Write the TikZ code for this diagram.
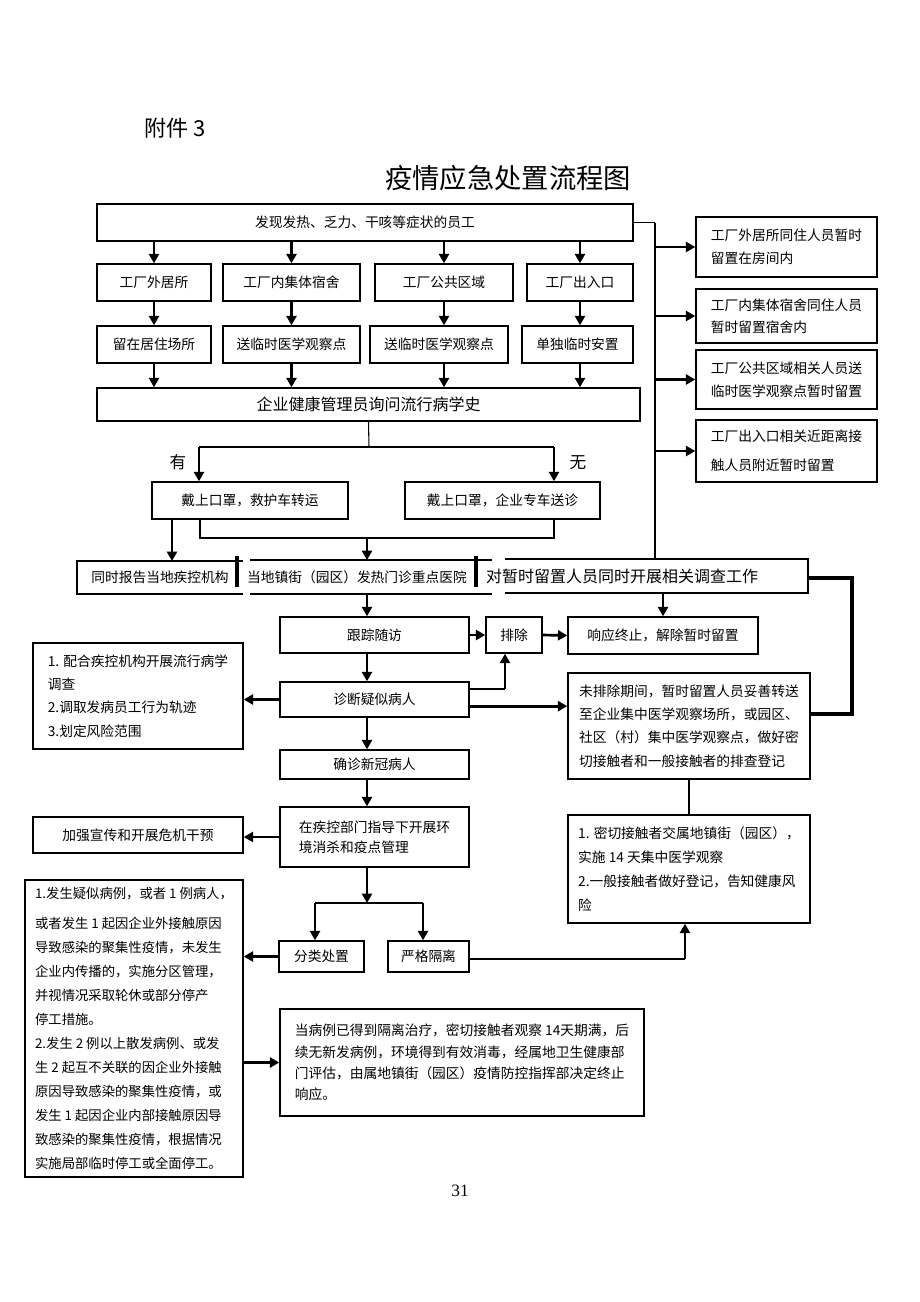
\documentclass[tikz,border=0pt]{standalone}
\usepackage{fontspec}
\setmainfont{Noto Sans CJK SC}
\newfontfamily\pagefont{Liberation Serif}
\usepackage{tikz}
\usetikzlibrary{calc, positioning, arrows.meta}
\newcommand{\fsz}[2]{\fontsize{#1}{#2}\selectfont}

\begin{document}
\begin{tikzpicture}[x=0.75pt, y=-0.75pt,
    box/.style={draw, line width=1.1pt, inner sep=0pt, align=center, font=\fsz{10.3}{17}},
    wh/.style 2 args={minimum width=#1*0.75pt, minimum height=#2*0.75pt},
    para/.style={align=left, font=\fsz{10.3}{#1}},
    arr/.style={line width=2pt, -{Triangle[length=7pt, width=7.5pt]}},
    ln/.style={line width=0.8pt},
    bd/.style={line width=1.1pt},
    bar/.style={line width=2.4pt}]
    \path[use as bounding box, fill=white] (0,0) rectangle (920,1302);
    \node[font=\fsz{16.5}{20}] (att) at (175,128) {附件 3};
    \node[font=\fsz{20.5}{24}] (title) at (508,178) {疫情应急处置流程图};
    \node[box, wh={536}{37}] (sym) at (365,222.5) {发现发热、乏力、干咳等症状的员工};
    \node[box, wh={114}{37}] (home) at (154,282.5) {工厂外居所};
    \node[box, wh={137}{37}] (dorm) at (291.5,282.5) {工厂内集体宿舍};
    \node[box, wh={138}{37}] (area) at (444,282.5) {工厂公共区域};
    \node[box, wh={106}{37}] (gate) at (580,282.5) {工厂出入口};
    \node[box, wh={114}{37}] (home_s) at (154,344.5) {留在居住场所};
    \node[box, wh={137}{37}] (dorm_s) at (291.5,344.5) {送临时医学观察点};
    \node[box, wh={138}{37}] (area_s) at (439,344.5) {送临时医学观察点};
    \node[box, wh={111}{37}] (gate_s) at (577.5,344.5) {单独临时安置};
    \node[box, wh={543}{33}, font=\fsz{12}{14}] (hist) at (368.5,404.5) {企业健康管理员询问流行病学史};
    \draw[arr] (sym.south -| home) -- (home.north);
    \draw[arr] (sym.south -| dorm) -- (dorm.north);
    \draw[arr] (sym.south -| area) -- (area.north);
    \draw[arr] (sym.south -| gate) -- (gate.north);
    \draw[arr] (home.south) -- (home.south |- home_s.north);
    \draw[arr] (dorm.south) -- (dorm.south |- dorm_s.north);
    \draw[arr] (area.south) -- (area.south |- area_s.north);
    \draw[arr] (gate.south) -- (gate.south |- gate_s.north);
    \draw[arr] (home_s.south -| home) -- (hist.north -| home);
    \draw[arr] (dorm_s.south -| dorm) -- (hist.north -| dorm);
    \draw[arr] (area_s.south -| area) -- (hist.north -| area);
    \draw[arr] (gate_s.south -| gate) -- (hist.north -| gate);
    \node[box, wh={181}{60}, para=17.25] (r_home) at (786.5,247) {工厂外居所同住人员暂时\\留置在房间内};
    \node[box, wh={181}{54}, para=16.5] (r_dorm) at (786.5,316) {工厂内集体宿舍同住人员\\暂时留置宿舍内};
    \node[box, wh={181}{59}, para=17.25] (r_area) at (786.5,379.5) {工厂公共区域相关人员送\\临时医学观察点暂时留置};
    \node[box, wh={181}{62}, para=21.5] (r_gate) at (786.5,451) {工厂出入口相关近距离接\\触人员附近暂时留置};
    \node[font=\fsz{12.5}{14}] (yes_l) at (178,462) {有};
    \node[font=\fsz{12.5}{14}] (no_l) at (578,463) {无};
    \node[box, wh={196}{37}] (amb) at (250,500.5) {戴上口罩，救护车转运};
    \node[box, wh={195}{37}] (car) at (502.5,500.5) {戴上口罩，企业专车送诊};
    \coordinate (br) at (369,447);
    \coordinate (yes) at (199,447);
    \coordinate (no) at (554,447);
    \draw[ln] (hist.south) -- (br);
    \draw[ln] (yes) -- (no);
    \draw[arr] (yes) -- (yes |- amb.north);
    \draw[arr] (no) -- (no |- car.north);
    \node[wh={166}{33}, inner sep=0pt, outer sep=0pt, font=\fsz{10.3}{12}] (rep) at (160,577.5) {同时报告当地疾控机构};
    \node[wh={10}{34}, inner sep=0pt, outer sep=0pt, font=\fsz{10.3}{12}] (hosp) at (357,577) {当地镇街（园区）发热门诊重点医院};
    \node[wh={10}{34}, inner sep=0pt, outer sep=0pt, font=\fsz{12}{14}] (inv) at (622,576) {对暂时留置人员同时开展相关调查工作};
    \draw[bd] (rep.north east) -- (rep.north west) -- (rep.south west) -- (rep.south east);
    \draw[bd] (250,560) -- (492,560) (250,594) -- (492,594);
    \draw[bd] (505,559) -| (808,593) -- (505,593);
    \draw[bar] (237,556) -- (237,587) (476,556) -- (476,587);
    \coordinate (mrg) at (367,538);
    \draw[arr] ([xshift=-58.5pt]amb.south) -- ([xshift=-58.5pt]amb.south |- rep.north);
    \draw[ln] ([xshift=-37.5pt]amb.south) |- (no |- mrg) -- (no |- car.south);
    \draw[arr] (mrg) -- (mrg |- hosp.north);
    \coordinate (inv_t) at (655,559);
    \draw[ln] (sym.east) -- (sym.east -| inv_t);
    \draw[line width=1.5pt] (sym.east -| inv_t) -- (inv_t);
    \draw[arr] (r_home.west -| inv_t) -- (r_home.west);
    \draw[arr] (r_dorm.west -| inv_t) -- (r_dorm.west);
    \draw[arr] (r_area.west -| inv_t) -- (r_area.west);
    \draw[arr] (r_gate.west -| inv_t) -- (r_gate.west);
    \node[box, wh={189}{36}] (fol) at (374.5,635) {跟踪随访};
    \node[box, wh={56}{36}] (exc) at (514,635) {排除};
    \node[box, wh={190}{37}] (stop) at (663,635.5) {响应终止，解除暂时留置};
    \draw[arr] (mrg |- hosp.south) -- (mrg |- fol.north);
    \draw[arr] (stop.north |- inv.south) -- (stop.north);
    \draw[arr] (fol.east) -- (exc.west);
    \draw[arr] (exc.east) -- (stop.west);
    \node[box, wh={189}{35}] (sus) at (374.5,699.5) {诊断疑似病人};
    \draw[arr] (mrg |- fol.south) -- (mrg |- sus.north);
    \coordinate (ex_b) at (505,689);
    \draw[ln] (sus.east |- ex_b) -- (ex_b);
    \draw[arr] (ex_b) -- (ex_b |- exc.south);
    \node[box, wh={242}{106}, para=17.5] (unx) at (689,726) {未排除期间，暂时留置人员妥善转送\\至企业集中医学观察场所，或园区、\\社区（村）集中医学观察点，做好密\\切接触者和一般接触者的排查登记};
    \draw[arr] ([yshift=-5pt]sus.east) -- ([yshift=-5pt]sus.east -| unx.west);
    \coordinate (inv_r) at (808,578);
    \coordinate (rt) at (852,714);
    \draw[bar] (inv_r) -| (rt) -- (rt -| unx.east);
    \node[box, wh={210}{106}, para=17.5] (epi) at (138,696) {1. 配合疾控机构开展流行病学\\调查\\2.调取发病员工行为轨迹\\3.划定风险范围};
    \draw[arr] (sus.west) -- (sus.west -| epi.east);
    \node[box, wh={189}{29}] (cnf) at (374.5,764.5) {确诊新冠病人};
    \draw[arr] (mrg |- sus.south) -- (mrg |- cnf.north);
    \node[box, wh={189}{60}, para=15] (dis) at (374.5,837) {在疾控部门指导下开展环\\境消杀和疫点管理};
    \draw[arr] (mrg |- cnf.south) -- (mrg |- dis.north);
    \node[box, wh={210}{36}] (prop) at (138,835) {加强宣传和开展危机干预};
    \draw[arr] (dis.west) -- (dis.west -| prop.east);
    \node[box, wh={242}{108}, para=18] (cls) at (689,869) {1. 密切接触者交属地镇街（园区），\\实施 14 天集中医学观察\\2.一般接触者做好登记，告知健康风\\险};
    \draw[ln] (unx.south) -- (cls.north);
    \coordinate (sp_l) at (315,903);
    \coordinate (sp_r) at (423,903);
    \node[box, wh={85}{31}] (sort) at (321.5,956.5) {分类处置};
    \node[box, wh={81}{31}] (iso) at (428.5,956.5) {严格隔离};
    \draw[arr] (mrg |- dis.south) -- (mrg |- sp_l);
    \draw[ln] (sp_l) -- (sp_r);
    \draw[arr] (sp_l) -- (sp_l |- sort.north);
    \draw[arr] (sp_r) -- (sp_r |- iso.north);
    \coordinate (iso_r) at (685,959);
    \draw[ln] (iso.east |- iso_r) -- (iso_r);
    \draw[arr] (iso_r) -- (iso_r |- cls.south);
    \node[box, wh={218}{297}, para=18, font=\fsz{10}{18}] (rule) at (134,1028.5) {1.发生疑似病例，或者 1 例病人，\\[4pt]或者发生 1 起因企业外接触原因\\导致感染的聚集性疫情，未发生\\企业内传播的，实施分区管理，\\并视情况采取轮休或部分停产\\停工措施。\\2.发生 2 例以上散发病例、或发\\生 2 起互不关联的因企业外接触\\原因导致感染的聚集性疫情，或\\发生 1 起因企业内部接触原因导\\致感染的聚集性疫情，根据情况\\实施局部临时停工或全面停工。};
    \draw[arr] (sort.west) -- (sort.west -| rule.east);
    \node[box, wh={364}{107}, para=16] (fin) at (462,1062.5) {当病例已得到隔离治疗，密切接触者观察 14天期满，后\\续无新发病例，环境得到有效消毒，经属地卫生健康部\\门评估，由属地镇街（园区）疫情防控指挥部决定终止\\响应。};
    \draw[arr] (rule.east |- fin.west) -- (fin.west);
    \node[font=\pagefont\fsz{13}{15}] (page) at (460,1191) {31};
\end{tikzpicture}
\end{document}
